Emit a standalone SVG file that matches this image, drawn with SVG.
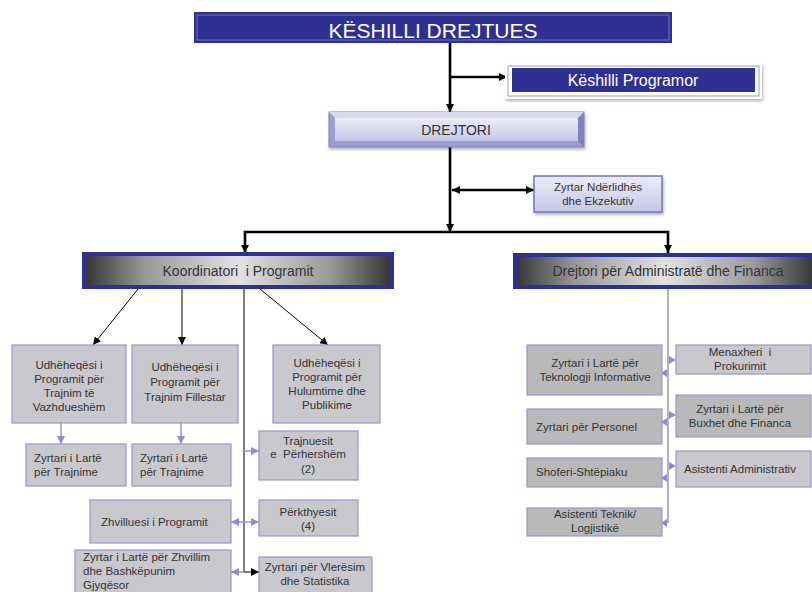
<svg xmlns="http://www.w3.org/2000/svg" width="812" height="592" viewBox="0 0 812 592">
<defs>
<style>
text{font-family:"Liberation Sans",Arial,sans-serif;fill:#333;text-anchor:middle;white-space:pre}
.l{text-anchor:start}
.s{font-size:11.5px}
.box{fill:#c9c8cd;stroke:#9894d2;stroke-width:1.2}
.boxd{fill:#b9b9b9;stroke:#9894d2;stroke-width:1.2}
.thick{stroke:#000;stroke-width:2.6;fill:none}
.thin{stroke:#000;stroke-width:1;fill:none}
.lav{stroke:#9894d2;stroke-width:1.5;fill:none}
.gry{stroke:#666;stroke-width:1;fill:none}
</style>
<linearGradient id="gk" x1="0" y1="0" x2="1" y2="0">
<stop offset="0" stop-color="#333"/><stop offset="0.2" stop-color="#999"/><stop offset="0.5" stop-color="#e2e2e2"/><stop offset="0.8" stop-color="#999"/><stop offset="1" stop-color="#333"/>
</linearGradient>
<linearGradient id="gl" x1="0" y1="0" x2="0" y2="1">
<stop offset="0" stop-color="#ececf8"/><stop offset="1" stop-color="#c6c6e6"/>
</linearGradient>
<marker id="ab" viewBox="0 0 10 10" refX="10" refY="5" markerWidth="8" markerHeight="8" markerUnits="userSpaceOnUse" orient="auto-start-reverse"><path d="M0,0L10,5L0,10z" fill="#000"/></marker>
<marker id="as" viewBox="0 0 10 10" refX="10" refY="5" markerWidth="8" markerHeight="8" markerUnits="userSpaceOnUse" orient="auto-start-reverse"><path d="M0,0L10,5L0,10z" fill="#000"/></marker>
<marker id="al" viewBox="0 0 10 10" refX="10" refY="5" markerWidth="8" markerHeight="8" markerUnits="userSpaceOnUse" orient="auto-start-reverse"><path d="M0,0L10,5L0,10z" fill="#8f8bd0"/></marker>
<filter id="sh" x="-10%" y="-30%" width="120%" height="160%"><feDropShadow dx="1" dy="2" stdDeviation="1.5" flood-color="#000" flood-opacity="0.3"/></filter>
</defs>
<rect width="812" height="592" fill="#fff"/>

<g id="connectors">
<line class="thick" x1="450" y1="43" x2="450" y2="112" marker-end="url(#ab)"/>
<line class="thick" x1="450" y1="77" x2="507" y2="77" marker-end="url(#ab)"/>
<line class="thick" x1="450" y1="147" x2="450" y2="232" marker-end="url(#ab)"/>
<line class="thick" x1="452" y1="190" x2="534" y2="190" marker-start="url(#ab)" marker-end="url(#ab)"/>
<polyline class="thick" points="245,253 245,232 668,232 668,253" marker-start="url(#ab)" marker-end="url(#ab)"/>
<line class="thin" x1="138" y1="289" x2="93" y2="345" marker-end="url(#as)"/>
<line class="thin" x1="182" y1="289" x2="182" y2="345" marker-end="url(#as)"/>
<line class="thin" x1="260" y1="289" x2="328" y2="345" marker-end="url(#as)"/>
<polyline class="thin" points="244,289 244,572 259,572" marker-end="url(#as)"/>
<line class="lav" x1="61" y1="423" x2="61" y2="444" marker-end="url(#al)"/>
<line class="lav" x1="181" y1="423" x2="181" y2="444" marker-end="url(#al)"/>
<line class="lav" x1="244" y1="451" x2="259" y2="451" marker-end="url(#al)"/>
<line class="lav" x1="231" y1="522" x2="259" y2="522" marker-start="url(#al)" marker-end="url(#al)"/>
<line class="lav" x1="244" y1="572" x2="231" y2="572" marker-end="url(#al)"/>
<line class="gry" x1="668" y1="289" x2="668" y2="523"/>
<g fill="#8f8bd0">
<path d="M669,356L676,360L669,364z"/>
<path d="M669,411L676,415L669,419z"/>
<path d="M669,462L676,466L669,470z"/>
<path d="M667,369L661,373L667,377z"/>
<path d="M667,418L661,422L667,426z"/>
<path d="M667,474L661,478L667,482z"/>
<path d="M667,519L661,523L667,527z"/>
</g>
</g>

<g id="keshilli-drejtues">
<rect x="194" y="12" width="478" height="31" fill="#2e3192"/>
<rect x="197" y="15" width="472" height="25" fill="none" stroke="#6e70b6" stroke-width="1"/>
<text x="433" y="38" style="font-size:21px;fill:#fff">KËSHILLI DREJTUES</text>
</g>

<g id="keshilli-programor">
<rect x="505" y="63" width="257" height="36" fill="#fff" filter="url(#sh)"/>
<rect x="508" y="66" width="251" height="30" fill="none" stroke="#9a9ad4" stroke-width="1"/>
<rect x="512" y="68" width="243" height="24" fill="#2e3192"/>
<text x="633" y="86" style="font-size:16px;fill:#fff">Këshilli Programor</text>
</g>

<g id="drejtori">
<rect x="329" y="112" width="255" height="35" fill="#9c9cd0" stroke="#7c7cbc" stroke-width="1" filter="url(#sh)"/>
<rect x="335" y="118" width="243" height="23" fill="url(#gl)"/>
<path d="M329,112H584L578,118H335z" fill="#d8d8ee"/>
<path d="M584,112V147L578,141V118z" fill="#8080bc"/>
<text x="456" y="135" style="font-size:14px">DREJTORI</text>
</g>

<g id="zyrtar-nderlidhes">
<rect x="534" y="176" width="128" height="36" fill="url(#gl)" stroke="#7474ba" stroke-width="1.5" filter="url(#sh)"/>
<text x="598" y="191" class="s">Zyrtar Ndërlidhës</text>
<text x="598" y="205" class="s">dhe Ekzekutiv</text>
</g>

<g id="koordinatori">
<rect x="84" y="254" width="308" height="33" fill="url(#gk)" stroke="#2e3192" stroke-width="4"/>
<text x="238" y="276" style="font-size:14px">Koordinatori  i Programit</text>
</g>

<g id="drejtori-admin">
<rect x="515" y="255" width="300" height="32" fill="url(#gk)" stroke="#2e3192" stroke-width="4"/>
<text x="668" y="276" style="font-size:14px">Drejtori për Administratë dhe Financa</text>
</g>

<g id="udheheqesi-vazhdueshem">
<rect class="box" x="12" y="345" width="114" height="78"/>
<text x="69" y="369" class="s">Udhëheqësi i</text>
<text x="69" y="383" class="s">Programit për</text>
<text x="69" y="397" class="s">Trajnim të</text>
<text x="69" y="411" class="s">Vazhdueshëm</text>
</g>

<g id="udheheqesi-fillestar">
<rect class="box" x="132" y="345" width="106" height="78"/>
<text x="185" y="371" class="s">Udhëheqësi i</text>
<text x="185" y="386" class="s">Programit për</text>
<text x="185" y="401" class="s">Trajnim Fillestar</text>
</g>

<g id="udheheqesi-hulumtime">
<rect class="box" x="273" y="345" width="107" height="78"/>
<text x="327" y="367" class="s">Udhëheqësi i</text>
<text x="327" y="381" class="s">Programit për</text>
<text x="327" y="395" class="s">Hulumtime dhe</text>
<text x="327" y="409" class="s">Publikime</text>
</g>

<g id="zyrtari-trajnime-1">
<rect class="box" x="26" y="444" width="100" height="42"/>
<text x="34" y="462" class="s l">Zyrtari i Lartë</text>
<text x="34" y="476" class="s l">për Trajnime</text>
</g>

<g id="zyrtari-trajnime-2">
<rect class="box" x="132" y="444" width="99" height="42"/>
<text x="140" y="462" class="s l">Zyrtari i Lartë</text>
<text x="140" y="476" class="s l">për Trajnime</text>
</g>

<g id="trajnuesit">
<rect class="box" x="259" y="431" width="99" height="49"/>
<text x="308" y="445" class="s">Trajnuesit</text>
<text x="308" y="458" class="s">e  Përhershëm</text>
<text x="308" y="473" class="s">(2)</text>
</g>

<g id="zhvilluesi">
<rect class="box" x="90" y="500" width="141" height="43"/>
<text x="101" y="526" class="s l">Zhvilluesi i Programit</text>
</g>

<g id="perkthyesit">
<rect class="box" x="259" y="500" width="99" height="36"/>
<text x="308" y="516" class="s">Përkthyesit</text>
<text x="308" y="530" class="s">(4)</text>
</g>

<g id="zyrtar-zhvillim">
<rect class="box" x="75" y="550" width="156" height="44"/>
<text x="83" y="561" class="s l">Zyrtar i Lartë për Zhvillim</text>
<text x="83" y="575" class="s l">dhe Bashkëpunim</text>
<text x="83" y="589" class="s l">Gjyqësor</text>
</g>

<g id="zyrtari-vleresim">
<rect class="box" x="259" y="557" width="113" height="37"/>
<text x="315" y="571" class="s">Zyrtari për Vlerësim</text>
<text x="315" y="585" class="s">dhe Statistika</text>
</g>

<g id="zyrtari-teknologji">
<rect class="boxd" x="527" y="345" width="135" height="50"/>
<text x="595" y="367" class="s">Zyrtari i Lartë për</text>
<text x="595" y="381" class="s">Teknologji Informative</text>
</g>

<g id="zyrtari-personel">
<rect class="boxd" x="527" y="409" width="135" height="35"/>
<text x="536" y="431" class="s l">Zyrtari për Personel</text>
</g>

<g id="shoferi">
<rect class="boxd" x="527" y="458" width="135" height="29"/>
<text x="536" y="476" class="s l">Shoferi-Shtëpiaku</text>
</g>

<g id="asistenti-teknik">
<rect class="boxd" x="527" y="508" width="135" height="28"/>
<text x="595" y="518" class="s">Asistenti Teknik/</text>
<text x="595" y="532" class="s">Logjistikë</text>
</g>

<g id="menaxheri">
<rect class="box" x="676" y="345" width="135" height="29"/>
<text x="740" y="356" class="s">Menaxheri  i</text>
<text x="740" y="370" class="s">Prokurimit</text>
</g>

<g id="zyrtari-buxhet">
<rect class="boxd" x="676" y="395" width="135" height="42"/>
<text x="740" y="413" class="s">Zyrtari i Lartë për</text>
<text x="740" y="427" class="s">Buxhet dhe Financa</text>
</g>

<g id="asistenti-admin">
<rect class="box" x="676" y="451" width="135" height="36"/>
<text x="740" y="473" class="s">Asistenti Administrativ</text>
</g>
</svg>
